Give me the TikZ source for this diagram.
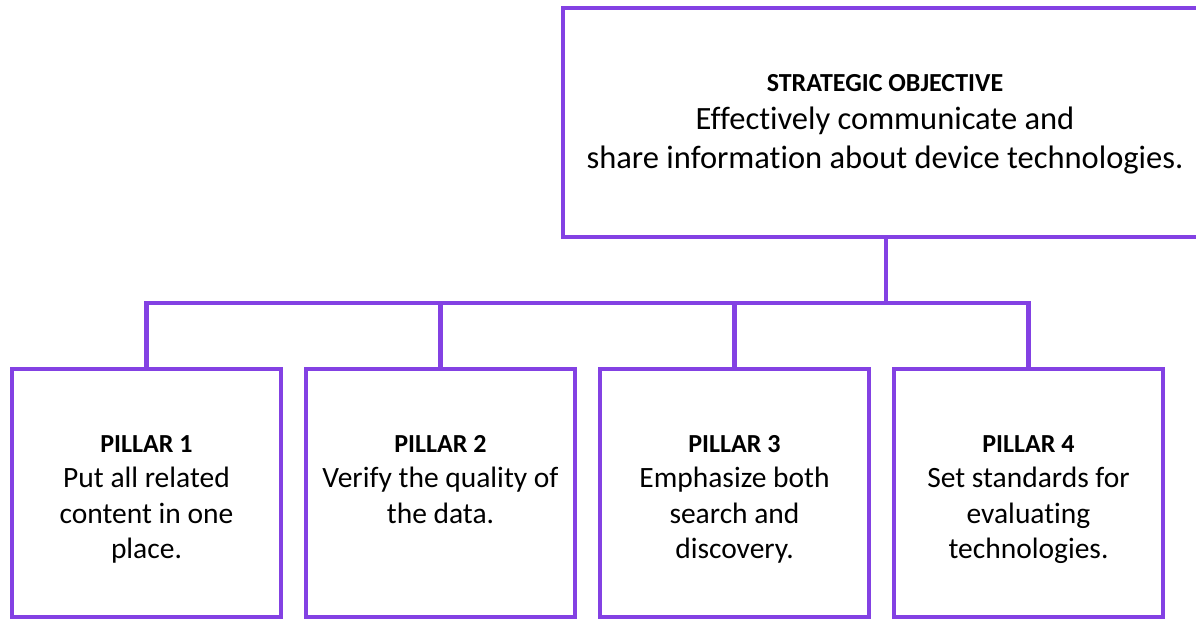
\documentclass[tikz,border=0pt]{standalone}
\usepackage{fontspec}
\setmainfont{Carlito}[Ligatures=NoCommon]
\definecolor{pillarpurple}{RGB}{131,65,227}
\begin{document}
\begin{tikzpicture}[x=1pt,y=-1pt,
  frame/.style={draw=pillarpurple, line width=4.5pt, outer sep=0pt, inner sep=0pt,
    rectangle, fill=none},
  pillarbox/.style={frame, minimum width=269pt, minimum height=248pt},
  link/.style={draw=pillarpurple, line width=4.5pt, line cap=rect},
  % multi-line texts are placed by the baseline of their last line
  pillartext/.style={anchor=base, align=center, inner sep=0pt,
    font=\fontsize{29.5}{35.5}\selectfont},
]
\clip (0,0) rectangle (1196,619);

% strategic objective box (runs past the right margin)
\node[frame, minimum width=646pt, minimum height=229pt] (obj) at (886,122.5) {};
\node[anchor=base, align=center, inner sep=0pt,
      font=\fontsize{32.5}{39}\selectfont] (objtext) at (885,168)
  {{\fontsize{26}{31}\selectfont\bfseries STRATEGIC OBJECTIVE}\\[-1.5pt]
   Effectively communicate and\\
   share information about device technologies.};

% the four pillars
\node[pillarbox] (p1) at (146.5,493) {};
\node[pillarbox] (p2) at (440.5,493) {};
\node[pillarbox] (p3) at (734.5,493) {};
\node[pillarbox] (p4) at (1028.5,493) {};

\node[pillartext] (t1) at (146.5,558.5)
  {{\fontsize{26}{31}\selectfont\bfseries PILLAR 1}\\
   Put all related\\ content in one\\ place.};
\node[pillartext] (t2) at (440.5,523)
  {{\fontsize{26}{31}\selectfont\bfseries PILLAR 2}\\
   Verify the quality of\\ the data.};
\node[pillartext] (t3) at (734.5,558.5)
  {{\fontsize{26}{31}\selectfont\bfseries PILLAR 3}\\
   Emphasize both\\ search and\\ discovery.};
\node[pillartext] (t4) at (1028.5,558.5)
  {{\fontsize{26}{31}\selectfont\bfseries PILLAR 4}\\
   Set standards for\\ evaluating\\ technologies.};

% connectors
\coordinate (bus) at (0,303);
\draw[link] (obj.south) -- (obj.south |- bus);
\draw[link] (p1.north) -- (p1.north |- bus) -- (p4.north |- bus) -- (p4.north);
\draw[link] (p2.north) -- (p2.north |- bus);
\draw[link] (p3.north) -- (p3.north |- bus);
\end{tikzpicture}
\end{document}
